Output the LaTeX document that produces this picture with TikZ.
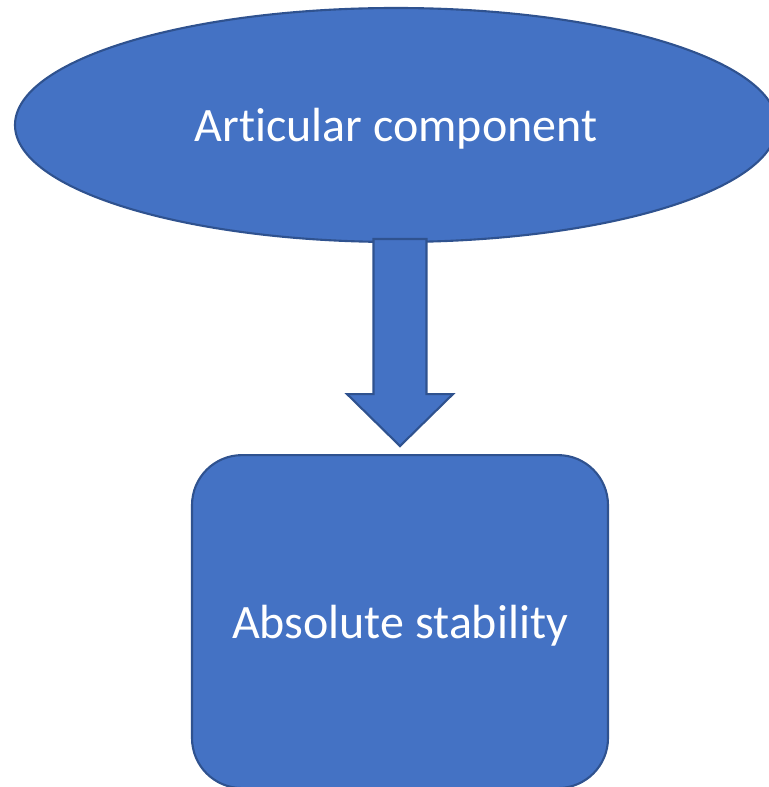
\documentclass[tikz,border=0pt]{standalone}
\usepackage{fontspec}
\setmainfont[Ligatures={NoCommon}]{Carlito}
\usepackage{tikz}
\usetikzlibrary{shapes.geometric, arrows.meta, positioning, calc}
\definecolor{cFill}{HTML}{4472C4}
\definecolor{cLine}{HTML}{2F528F}
\tikzset{
	blob/.style   ={ellipse, draw=cLine, fill=cFill, line width=1.2pt, minimum width=15.24cm, minimum height=4.68cm, text=white, text depth=0pt, align=center},
	rbox/.style   ={rectangle, rounded corners=1cm, draw=cLine, fill=cFill, line width=1.2pt, minimum width=8.32cm, minimum height=6.66cm, text=white, text depth=0pt, align=center},
	blockarr/.style={draw=cLine, fill=cFill, line width=1.2pt},
}
\begin{document}
\begin{tikzpicture}[font=\fontsize{27.3}{32}\selectfont]
	\useasboundingbox (0,0) rectangle (15.36,-15.74);
	\node[blob] (art) at (7.92,-2.5) {Articular component};
	\node[rbox, below=4.22cm of art, xshift=0.08cm] (abs) {Absolute stability};
	% block arrow between the two
	\coordinate (atop) at ($(abs.north |- art.south)+(0,0.08)$);
	\coordinate (atip) at ($(abs.north)+(0,0.16)$);
	\draw[blockarr] ($(atop)+(-0.53,0)$) -- ($(atop)+(0.53,0)$) -- ($(atip)+(0.53,1.04)$) -- ($(atip)+(1.06,1.04)$)
		-- (atip) -- ($(atip)+(-1.06,1.04)$) -- ($(atip)+(-0.53,1.04)$) -- cycle;
\end{tikzpicture}
\end{document}
